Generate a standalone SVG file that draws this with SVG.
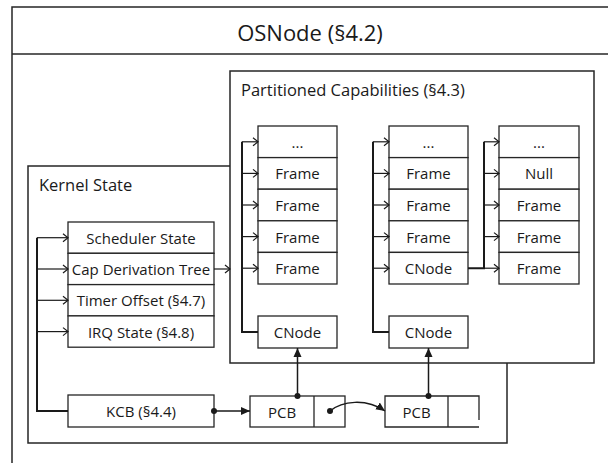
<svg xmlns="http://www.w3.org/2000/svg" width="608" height="463" viewBox="0 0 608 463">
<defs>
<style>
.box{fill:#fff;stroke:#262626;stroke-width:1.3}
.frame{fill:#fff;stroke:#262626;stroke-width:1.5}
.t{font-family:"Open Sans","Noto Sans","DejaVu Sans",sans-serif;font-size:15px;fill:#1a1a1a;text-anchor:middle;dominant-baseline:central}
.tl{font-family:"Open Sans","Noto Sans","DejaVu Sans",sans-serif;font-size:16.5px;fill:#1a1a1a}
.title{font-family:"Open Sans","Noto Sans","DejaVu Sans",sans-serif;font-size:22px;fill:#1a1a1a;text-anchor:middle;dominant-baseline:central}
.bus{fill:none;stroke:#1a1a1a;stroke-width:2}
.stub{fill:none;stroke:#1a1a1a;stroke-width:1.2;marker-end:url(#open)}
.arr{fill:none;stroke:#1a1a1a;stroke-width:1.5;marker-end:url(#solid)}
.dot{fill:#1a1a1a}
</style>
<marker id="open" markerUnits="userSpaceOnUse" markerWidth="8" markerHeight="10" refX="6" refY="5" orient="auto">
<path d="M1,1 L6,5 L1,9" fill="none" stroke="#1a1a1a" stroke-width="1.2"/>
</marker>
<marker id="solid" markerUnits="userSpaceOnUse" markerWidth="10" markerHeight="10" refX="9" refY="5" orient="auto">
<path d="M0,1 L9,5 L0,9 z" fill="#1a1a1a"/>
</marker>
</defs>
<rect x="0" y="0" width="608" height="463" fill="#fff"/>

<g id="osnode">
<rect class="frame" x="12" y="7" width="620" height="480"/>
<line x1="12" y1="54" x2="608" y2="54" stroke="#262626" stroke-width="1.5"/>
<text class="title" x="310" y="32">OSNode (§4.2)</text>
</g>

<g id="kernel-state">
<rect class="frame" x="28" y="166" width="479" height="277"/>
<text class="tl" x="39" y="191">Kernel State</text>
</g>

<g id="partitioned-capabilities">
<rect class="frame" x="230" y="71" width="364" height="292"/>
<text class="tl" x="241" y="96">Partitioned Capabilities (§4.3)</text>
</g>

<g id="kernel-fields">
<rect class="box" x="68" y="222" width="146" height="31.3"/>
<text class="t" x="141" y="237.7">Scheduler State</text>
<rect class="box" x="68" y="253.3" width="146" height="31.3"/>
<text class="t" x="141" y="269">Cap Derivation Tree</text>
<rect class="box" x="68" y="284.6" width="146" height="31.3"/>
<text class="t" x="141" y="300.3">Timer Offset (§4.7)</text>
<rect class="box" x="68" y="315.9" width="146" height="31.3"/>
<text class="t" x="141" y="331.6">IRQ State (§4.8)</text>
</g>

<g id="kcb">
<rect class="box" x="68" y="395" width="146" height="32"/>
<text class="t" x="141" y="411">KCB (§4.4)</text>
</g>

<g id="cnode-table-1">
<rect class="box" x="258" y="126" width="79" height="31.6"/>
<text class="t" x="297.5" y="141.8">...</text>
<rect class="box" x="258" y="157.6" width="79" height="31.6"/>
<text class="t" x="297.5" y="173.4">Frame</text>
<rect class="box" x="258" y="189.2" width="79" height="31.6"/>
<text class="t" x="297.5" y="205">Frame</text>
<rect class="box" x="258" y="220.8" width="79" height="31.6"/>
<text class="t" x="297.5" y="236.6">Frame</text>
<rect class="box" x="258" y="252.4" width="79" height="31.6"/>
<text class="t" x="297.5" y="268.2">Frame</text>
</g>

<g id="cnode-table-2">
<rect class="box" x="389" y="126" width="79" height="31.6"/>
<text class="t" x="428.5" y="141.8">...</text>
<rect class="box" x="389" y="157.6" width="79" height="31.6"/>
<text class="t" x="428.5" y="173.4">Frame</text>
<rect class="box" x="389" y="189.2" width="79" height="31.6"/>
<text class="t" x="428.5" y="205">Frame</text>
<rect class="box" x="389" y="220.8" width="79" height="31.6"/>
<text class="t" x="428.5" y="236.6">Frame</text>
<rect class="box" x="389" y="252.4" width="79" height="31.6"/>
<text class="t" x="428.5" y="268.2">CNode</text>
</g>

<g id="cnode-table-3">
<rect class="box" x="499" y="126" width="80" height="31.6"/>
<text class="t" x="539" y="141.8">...</text>
<rect class="box" x="499" y="157.6" width="80" height="31.6"/>
<text class="t" x="539" y="173.4">Null</text>
<rect class="box" x="499" y="189.2" width="80" height="31.6"/>
<text class="t" x="539" y="205">Frame</text>
<rect class="box" x="499" y="220.8" width="80" height="31.6"/>
<text class="t" x="539" y="236.6">Frame</text>
<rect class="box" x="499" y="252.4" width="80" height="31.6"/>
<text class="t" x="539" y="268.2">Frame</text>
</g>

<g id="cnode-1">
<rect class="box" x="258" y="316" width="79" height="32"/>
<text class="t" x="297.5" y="332">CNode</text>
</g>

<g id="cnode-2">
<rect class="box" x="389" y="316" width="79" height="32"/>
<text class="t" x="428.5" y="332">CNode</text>
</g>

<g id="pcb-1">
<rect class="box" x="250" y="396" width="95" height="31"/>
<line x1="314" y1="396" x2="314" y2="427" stroke="#262626" stroke-width="1.3"/>
<text class="t" x="282" y="411.5">PCB</text>
</g>

<g id="pcb-2">
<path d="M479,420 V396 H385 V427 H479" fill="#fff" stroke="#262626" stroke-width="1.3"/>
<line x1="448" y1="396" x2="448" y2="427" stroke="#262626" stroke-width="1.3"/>
<text class="t" x="416.5" y="411.5">PCB</text>
</g>

<g id="connectors">
<path class="bus" d="M37,237.7 V411 H68"/>
<path class="stub" d="M37,237.7 H68"/>
<path class="stub" d="M37,269 H68"/>
<path class="stub" d="M37,300.3 H68"/>
<path class="stub" d="M37,331.6 H68"/>
<path class="stub" d="M214,269 H230"/>

<path class="bus" d="M242,141.8 V332 H258"/>
<path class="stub" d="M242,141.8 H258"/>
<path class="stub" d="M242,173.4 H258"/>
<path class="stub" d="M242,205 H258"/>
<path class="stub" d="M242,236.6 H258"/>
<path class="stub" d="M242,268.2 H258"/>

<path class="bus" d="M373,141.8 V332 H389"/>
<path class="stub" d="M373,141.8 H389"/>
<path class="stub" d="M373,173.4 H389"/>
<path class="stub" d="M373,205 H389"/>
<path class="stub" d="M373,236.6 H389"/>
<path class="stub" d="M373,268.2 H389"/>

<path class="bus" d="M468,268.2 H484 V141.8"/>
<path class="stub" d="M484,141.8 H499"/>
<path class="stub" d="M484,173.4 H499"/>
<path class="stub" d="M484,205 H499"/>
<path class="stub" d="M484,236.6 H499"/>
<path class="stub" d="M484,268.2 H499"/>

<path class="arr" d="M214,411 H250"/>
<circle class="dot" cx="214" cy="411" r="3"/>
<path class="arr" d="M297.5,396 V348"/>
<circle class="dot" cx="297.5" cy="396" r="3"/>
<path class="arr" d="M428.5,396 V348"/>
<circle class="dot" cx="428.5" cy="396" r="3"/>
<path class="arr" d="M330,411 C342,401 366,398 385,411"/>
<circle class="dot" cx="330" cy="411" r="3"/>
</g>
</svg>
